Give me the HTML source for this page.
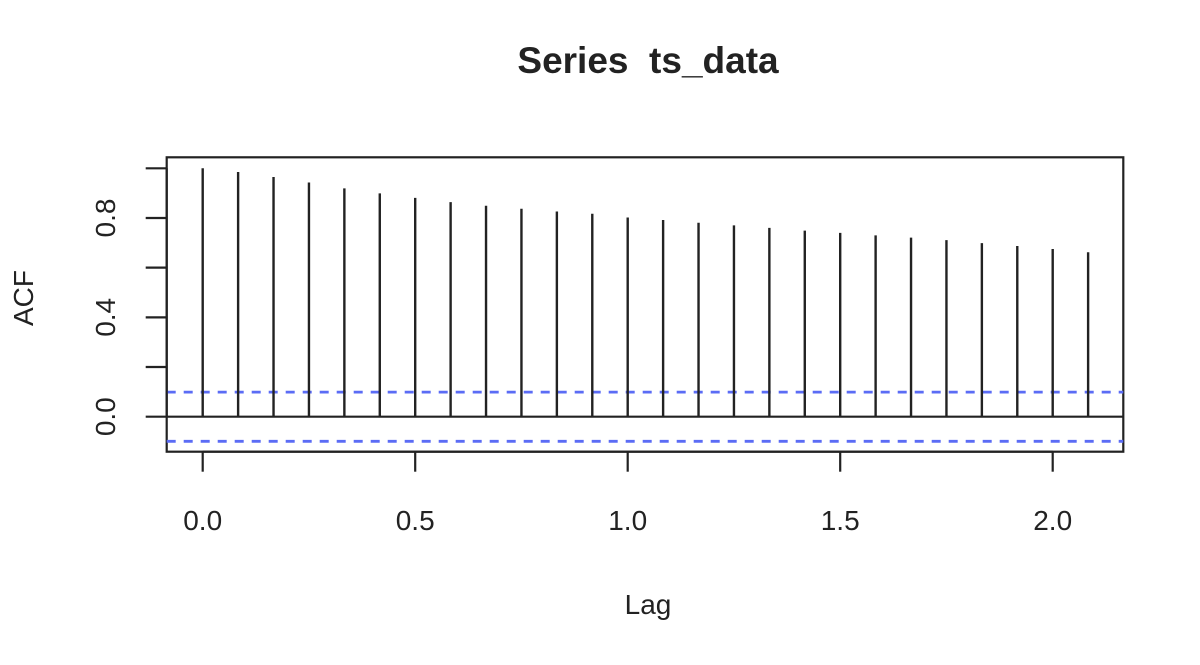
<!DOCTYPE html>
<html><head><meta charset="utf-8"><style>
html,body{margin:0;padding:0;background:#fff;}
svg text{font-family:"Liberation Sans",Arial,sans-serif;fill:#222;}
</style></head><body>
<svg id="chart" width="1200" height="660" xmlns="http://www.w3.org/2000/svg">
<text x="648" y="73" font-size="37" font-weight="bold" text-anchor="middle">Series&#160; ts_data</text>
<text x="648" y="614" font-size="28" text-anchor="middle">Lag</text>
<text transform="translate(33,298) rotate(-90)" font-size="28" text-anchor="middle">ACF</text>
<g id="plot"></g>
</svg>
<script>
const lags = [0,1,2,3,4,5,6,7,8,9,10,11,12,13,14,15,16,17,18,19,20,21,22,23,24,25].map(k=>k/12);
const acfValues = [1.0,0.985,0.965,0.943,0.919,0.899,0.881,0.864,0.849,0.837,0.826,0.817,0.802,0.792,0.781,0.770,0.760,0.749,0.740,0.730,0.721,0.711,0.699,0.687,0.675,0.662];
const confLimit = 0.099;
const xTicks = [0,0.5,1.0,1.5,2.0];
const xTickLabels = ["0.0","0.5","1.0","1.5","2.0"];
const yTicks = [0,0.2,0.4,0.6,0.8,1.0];
const yTickLabels = ["0.0","","0.4","","0.8",""];

const NS="http://www.w3.org/2000/svg";
const g=document.getElementById('plot');
const L=166.7,R=1123.3,T=157.3,B=451.7;
const xs=v=>202.7+v*425;
const ys=v=>416.7-v*248.4;
function mk(tag,a){const e=document.createElementNS(NS,tag);for(const k in a)e.setAttribute(k,a[k]);g.appendChild(e);return e;}

const box=mk('rect',{x:L,y:T,width:R-L,height:B-T,fill:'none',stroke:'#222','stroke-width':2.2});


const zl=mk('line',{x1:L,x2:R,y1:ys(0),y2:ys(0),stroke:'#222','stroke-width':2.2});


[confLimit,-confLimit].forEach((c,i)=>{
  const l=mk('line',{x1:L,x2:R,y1:ys(c),y2:ys(c),stroke:'#5b6cf5','stroke-width':2.8,'stroke-dasharray':'9 8'});
  
  
});
acfValues.forEach((v,i)=>{
  const x=xs(lags[i]);
  const l=mk('line',{x1:x,x2:x,y1:ys(0),y2:ys(v),stroke:'#222','stroke-width':2.4});
  
  
});
const xa=mk('line',{x1:xs(xTicks[0]),x2:xs(xTicks[xTicks.length-1]),y1:B,y2:B,stroke:'#222','stroke-width':2.2});


xTicks.forEach((t,i)=>{
  const tk=mk('line',{x1:xs(t),x2:xs(t),y1:B,y2:B+20,stroke:'#222','stroke-width':2.2});
  
  
  const tx=mk('text',{x:xs(t),y:530,'font-size':28,'text-anchor':'middle'});
  tx.textContent=xTickLabels[i];
  
  
});
const ya=mk('line',{x1:L,x2:L,y1:ys(yTicks[0]),y2:ys(yTicks[yTicks.length-1]),stroke:'#222','stroke-width':2.2});


yTicks.forEach((t,i)=>{
  const tk=mk('line',{x1:L-21,x2:L,y1:ys(t),y2:ys(t),stroke:'#222','stroke-width':2.2});
  
  
  if(yTickLabels[i]){
    const tx=mk('text',{transform:`translate(115,${ys(t)}) rotate(-90)`,'font-size':28,'text-anchor':'middle'});
    tx.textContent=yTickLabels[i];
    
    
  }
});
</script>
</body></html>
